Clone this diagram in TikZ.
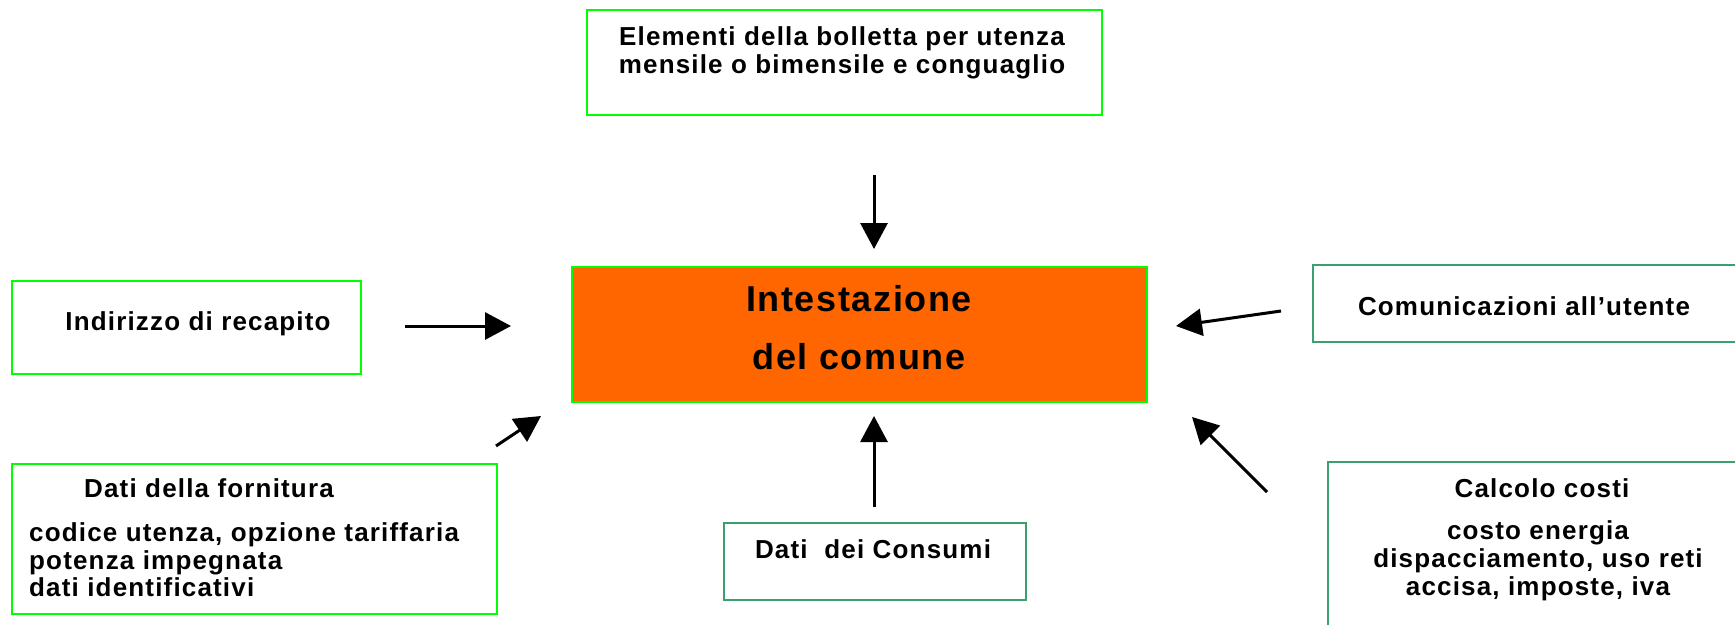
\documentclass[tikz,border=0pt]{standalone}
\usepackage{fontspec}
\setmainfont{Liberation Sans}[LetterSpace=4.5]
\usetikzlibrary{arrows.meta}
\definecolor{brightgreen}{RGB}{0,255,0}
\definecolor{seagreen}{RGB}{60,160,110}
\definecolor{orangefill}{RGB}{255,102,0}
\tikzset{
  gbox/.style={draw=brightgreen, line width=2pt, anchor=north west, inner sep=0pt},
  sbox/.style={draw=seagreen, line width=2pt, anchor=north west, inner sep=0pt},
  arr/.style={line width=3pt, -{Triangle[length=26pt,width=27pt]}},
  txt/.style={font=\bfseries\fontsize{26}{28}\selectfont, inner sep=0pt, align=center},
  bigtxt/.style={font=\bfseries\fontsize{36}{58}\selectfont, inner sep=0pt, align=center}
}
\begin{document}
\begin{tikzpicture}[x=1pt,y=-1pt]
\clip (0,0) rectangle (1735,624);
\fill[white] (0,0) rectangle (1735,624);
% boxes
\node[gbox, minimum width=515pt, minimum height=105pt] (top) at (586,9) {};
\node[gbox, minimum width=349pt, minimum height=93pt] (left) at (11,280) {};
\node[gbox, fill=orangefill, minimum width=575pt, minimum height=135pt] (center) at (571,266) {};
\node[sbox, minimum width=433pt, minimum height=77pt] (right) at (1312,264) {};
\node[gbox, minimum width=485pt, minimum height=150pt] (botleft) at (11,463) {};
\node[sbox, minimum width=302pt, minimum height=77pt] (botmid) at (723,522) {};
\node[sbox, minimum width=418pt, minimum height=180pt] (botright) at (1327,461) {};
% texts
\node[txt] (ttop) at (842,53) {Elementi della bolletta per utenza\\mensile o bimensile e conguaglio};
\node[txt] (tleft) at (198,324) {Indirizzo di recapito};
\node[bigtxt] (tcenter) at (859,328) {Intestazione\\del comune};
\node[txt] (tright) at (1524,306) {Comunicazioni all’utente};
\node[txt] (tbl1) at (209,488) {Dati della fornitura};
\node[txt, anchor=west, align=left, font=\bfseries\fontsize{26}{27.5}\selectfont] (tbl2) at (29,560) {codice utenza, opzione tariffaria\\potenza impegnata\\dati identificativi};
\node[txt] (tbm) at (873,549) {Dati\ \ dei Consumi};
\node[txt] (tbr1) at (1542,488) {Calcolo costi};
\node[txt] (tbr2) at (1538,561) {costo energia\\dispacciamento, uso reti\\accisa, imposte, iva};
% arrow ends
\coordinate (a1s) at (874,175); \coordinate (a1e) at (874,249);
\coordinate (a2s) at (405,326); \coordinate (a2e) at (511,326);
\coordinate (a3s) at (1281,311); \coordinate (a3e) at (1176,326);
\coordinate (a4s) at (496,446); \coordinate (a4e) at (541,416);
\coordinate (a5s) at (874,507); \coordinate (a5e) at (874,416);
\coordinate (a6s) at (1267,492); \coordinate (a6e) at (1192,417);
\draw[arr] (a1s) -- (a1e);
\draw[arr] (a2s) -- (a2e);
\draw[arr] (a3s) -- (a3e);
\draw[arr] (a4s) -- (a4e);
\draw[arr] (a5s) -- (a5e);
\draw[arr] (a6s) -- (a6e);
\end{tikzpicture}
\end{document}
